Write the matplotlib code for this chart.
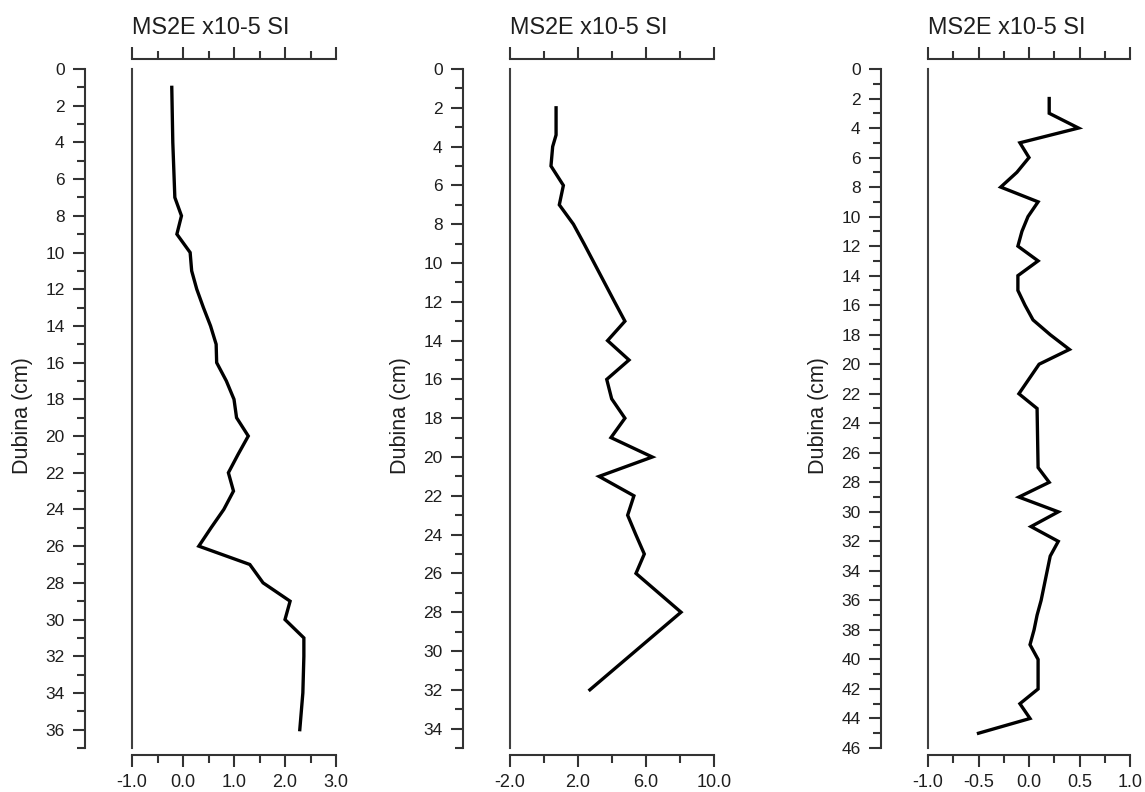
import matplotlib
matplotlib.use("Agg")
import matplotlib.pyplot as plt
from matplotlib.ticker import MultipleLocator, FixedLocator, FormatStrFormatter

plt.rcParams['font.family'] = ['Liberation Sans', 'DejaVu Sans']

# profil 1
depth1 = [1, 4, 7, 8, 9, 10, 11, 12, 13, 14, 15, 16, 17, 18, 19, 20, 21, 22,
          23, 24, 25, 26, 27, 28, 29, 30, 31, 32, 33, 34, 35, 36]
ms1 = [-0.22, -0.20, -0.16, -0.03, -0.12, 0.14, 0.17, 0.27, 0.40, 0.54, 0.65,
       0.66, 0.85, 1.00, 1.05, 1.28, 1.08, 0.89, 0.99, 0.80, 0.55, 0.31, 1.31,
       1.57, 2.10, 2.00, 2.37, 2.37, 2.36, 2.35, 2.32, 2.29]

# profil 2
depth2 = [2, 3.4, 4, 5, 6, 7, 8, 9, 10, 11, 12, 13, 14, 15, 16, 17, 18, 19,
          20, 21, 22, 23, 24, 25, 26, 28, 32]
ms2 = [0.71, 0.71, 0.51, 0.41, 1.14, 0.90, 1.73, 2.35, 2.95, 3.55, 4.15, 4.76,
       3.74, 5.00, 3.69, 3.98, 4.76, 3.94, 6.37, 3.24, 5.29, 4.92, 5.40, 5.90,
       5.41, 8.06, 2.70]

# profil 3
depth3 = [2, 3, 4, 5, 6, 7, 8, 9, 10, 11, 12, 13, 14, 15, 16, 17, 18, 19, 20,
          21, 22, 23, 27, 28, 29, 30, 31, 32, 33, 34, 35, 36, 37, 38, 39, 40,
          42, 43, 44, 45]
ms3 = [0.20, 0.20, 0.49, -0.09, 0.00, -0.12, -0.28, 0.09, -0.01, -0.07, -0.11,
       0.09, -0.11, -0.11, -0.04, 0.04, 0.21, 0.40, 0.10, 0.00, -0.10, 0.08,
       0.09, 0.20, -0.10, 0.29, 0.02, 0.29, 0.21, 0.18, 0.15, 0.12, 0.08, 0.05,
       0.01, 0.09, 0.09, -0.09, 0.01, -0.50]

title = "MS2E x10-5 SI"
ylabel = "Dubina (cm)"

# (depth, values, xlim, major x ticks, minor step, depth max, px left, px right)
panels = [
    (depth1, ms1, (-1.0, 3.0), [-1, 0, 1, 2, 3], 0.5, 37, 132, 336),
    (depth2, ms2, (-2.0, 10.0), [-2, 2, 6, 10], 2.0, 35, 510, 714),
    (depth3, ms3, (-1.0, 1.0), [-1, -0.5, 0, 0.5, 1], 0.25, 46, 928, 1130),
]

W, H = 1145, 792
top_px, bot_px = 69, 748
axis_col = '#333333'
text_col = '#1e1e1e'

fig = plt.figure(figsize=(W / 100, H / 100), dpi=100)

for depth, vals, xlim, xmaj, xmin_step, dmax, left, right in panels:
    ax = fig.add_axes([left / W, 1 - bot_px / H, (right - left) / W, (bot_px - top_px) / H])
    ax.plot(vals, depth, color='black', lw=2.4, solid_joinstyle='miter')
    ax.set_xlim(*xlim)
    ax.set_ylim(dmax, 0)

    # vnitrni svisla cara
    ax.plot([0, 0], [0, 1], transform=ax.transAxes, color='#404040', lw=1.5, clip_on=False)

    ax.spines['right'].set_visible(False)
    ax.spines['top'].set_position(('outward', 7))
    ax.spines['bottom'].set_position(('outward', 5))
    ax.spines['left'].set_position(('outward', 34))
    for s in ['top', 'bottom', 'left']:
        ax.spines[s].set_color(axis_col)
        ax.spines[s].set_linewidth(1.5)

    ax.xaxis.set_major_locator(FixedLocator(xmaj))
    ax.xaxis.set_minor_locator(MultipleLocator(xmin_step))
    ax.xaxis.set_major_formatter(FormatStrFormatter('%.1f'))
    ax.yaxis.set_major_locator(MultipleLocator(2))
    ax.yaxis.set_minor_locator(MultipleLocator(1))

    ax.tick_params(axis='x', which='both', top=True, labeltop=False, direction='out',
                   color=axis_col, width=1.5, labelsize=13, labelcolor=text_col, pad=5)
    ax.tick_params(axis='both', which='major', length=8.5)
    ax.tick_params(axis='both', which='minor', length=5.5)
    ax.tick_params(axis='y', which='both', direction='out', color=axis_col, width=1.5,
                   labelsize=12.5, labelcolor=text_col, pad=6)

    ax.set_ylabel(ylabel, fontsize=15.5, color=text_col)
    ax.yaxis.set_label_coords(-99 / (right - left), 0.49)
    fig.text(left / W, 1 - 27 / H, title, fontsize=16.8, color=text_col, ha='left', va='center')

fig.savefig("out.png", dpi=100)
